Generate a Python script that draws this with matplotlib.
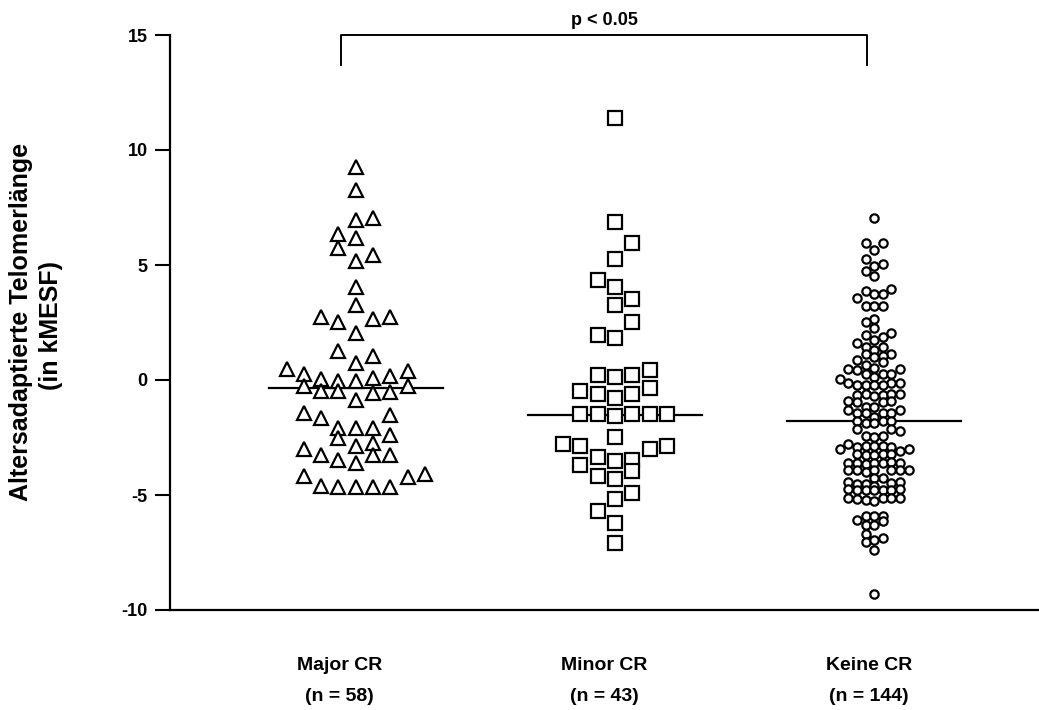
import matplotlib
matplotlib.use("Agg")
from matplotlib import pyplot as plt
from matplotlib.transforms import blended_transform_factory

plt.rcParams['font.family'] = ['Liberation Sans', 'DejaVu Sans']
plt.rcParams['font.weight'] = 'bold'
plt.rcParams['axes.unicode_minus'] = False

# group labels
groups = ['Major CR', 'Minor CR', 'Keine CR']
counts = ['(n = 58)', '(n = 43)', '(n = 144)']
medians = [-0.33, -1.5, -1.78]

# values, plus the swarm column of each point
major_values = [9.26, 8.25, 6.97, 7.05, 6.36, 6.18, 5.75, 5.16, 5.45, 4.06,
                3.27, 2.75, 2.53, 2.65, 2.75, 2.05, 1.27, 1.05, 0.75, 0.49,
                0.25, 0.40, 0.03, -0.04, -0.04, 0.07, 0.17, -0.26, -0.48, -0.48,
                -0.89, -0.55, -0.51, -0.26, -1.43, -1.64, -1.50, -2.07, -2.07, -2.07,
                -2.52, -2.88, -2.74, -2.37, -3.02, -3.27, -3.46, -3.61, -3.24, -3.27,
                -4.19, -4.62, -4.67, -4.67, -4.67, -4.67, -4.23, -4.09]
major_slots = [0, 0, 0, 1, -1, 0, -1, 0, 1, 0,
               0, -2, -1, 1, 2, 0, -1, 1, 0, -4,
               -3, 3, -2, -1, 0, 1, 2, -3, -2, -1,
               0, 1, 2, 3, -3, -2, 2, -1, 0, 1,
               -1, 0, 1, 2, -3, -2, -1, 0, 1, 2,
               -3, -2, -1, 0, 1, 2, 3, 4]

minor_values = [11.37, 6.86, 5.95, 5.27, 4.35, 4.06, 3.52, 3.27, 2.53, 1.95, 1.82,
                0.22, 0.13, 0.22, 0.42,
                -0.48, -0.60, -0.77, -0.60, -0.36,
                -1.47, -1.47, -1.55, -1.47, -1.47, -1.47,
                -2.49, -2.78, -2.88, -2.98, -2.88, -3.36, -3.50, -3.46, -3.68, -3.94,
                -4.19, -4.29, -4.92, -5.16, -5.69, -6.23, -7.10]
minor_slots = [0, 0, 1, 0, -1, 0, 1, 0, 1, -1, 0,
               -1, 0, 1, 2,
               -2, -1, 0, 1, 2,
               -2, -1, 0, 1, 2, 3,
               0, -3, -2, 2, 3, -1, 0, 1, -2, 1,
               -1, 0, 1, 0, -1, 0, 0]

keine_values = [7.04, 5.96, 5.96, 5.67, 5.27, 5.03, 4.94, 4.76, 4.54, 3.96,
                3.87, 3.74, 3.74, 3.55, 3.23, 3.23, 3.23, 2.65, 2.53, 2.24,
                2.04, 1.95, 1.85, 1.75, 1.63, 1.45, 1.45, 1.31, 1.12, 1.12,
                1.00, 1.05, 0.87, 0.78, 0.64, 0.54, 0.47, 0.47, 0.44, 0.25,
                0.25, 0.25, 0.14, 0.03, -0.14, -0.14, -0.14, -0.23, -0.23, -0.23,
                -0.23, -0.65, -0.62, -0.68, -0.65, -0.62, -0.60, -0.90, -0.96, -0.96,
                -0.90, -1.16, -1.16, -1.30, -1.30, -1.45, -1.45, -1.45, -1.45, -1.60,
                -1.80, -1.85, -1.85, -1.80, -1.80, -2.15, -2.15, -2.20, -2.45, -2.49,
                -2.45, -2.98, -2.80, -2.90, -2.88, -2.88, -2.88, -2.90, -3.07, -2.98,
                -3.20, -3.24, -3.24, -3.20, -3.20, -3.60, -3.62, -3.65, -3.60, -3.60,
                -3.58, -3.60, -3.92, -3.92, -3.98, -3.92, -3.92, -3.90, -3.92, -4.25,
                -4.25, -4.45, -4.50, -4.50, -4.48, -4.45, -4.62, -4.75, -4.80, -4.80,
                -4.78, -4.80, -4.80, -4.75, -5.15, -5.18, -5.22, -5.25, -5.15, -5.15,
                -5.12, -5.90, -5.90, -5.90, -6.07, -6.30, -6.30, -6.15, -6.70, -7.05,
                -6.95, -6.85, -7.40, -9.30]
keine_slots = [0, -1, 1, 0, -1, 1, 0, -1, 0, 2,
               -1, 0, 1, -2, -1, 0, 1, 0, -1, 0,
               2, -1, 1, 0, -2, -1, 1, 0, -1, 2,
               0, 1, -2, 1, -1, 0, -3, 3, -2, -1,
               1, 2, 0, -4, -3, 2, 3, -2, -1, 0,
               1, -2, -1, 0, 1, 2, 3, -3, -2, 1,
               2, -1, 0, -3, 3, -2, -1, 1, 2, 0,
               -2, -1, 0, 1, 2, -2, 2, 3, -1, 0,
               1, -4, -3, -2, -1, 0, 1, 2, 3, 4,
               -2, -1, 0, 1, 2, -3, -2, -1, 0, 1,
               2, 3, -3, -2, -1, 0, 2, 3, 4, 0,
               1, -3, -2, -1, 2, 3, 0, -3, -2, -1,
               0, 1, 2, 3, -3, -2, -1, 0, 1, 2,
               3, -1, 0, 1, -2, -1, 0, 1, -1, -1,
               0, 1, 0, 0]

centres = [1, 2, 3]
label_x = [0.938, 1.958, 2.981]
markers = ['^', 's', 'o']
sizes = [9.5, 9.5, 6.0]
steps = [0.0667, 0.067, 0.0334]
all_values = [major_values, minor_values, keine_values]
all_slots = [major_slots, minor_slots, keine_slots]

fig = plt.figure(figsize=(10.39, 7.10), dpi=100)
ax = fig.add_axes([170 / 1039, 1 - 610 / 710, 869 / 1039, 575 / 710])

for c, vals, slots, m, s, st, med in zip(centres, all_values, all_slots,
                                          markers, sizes, steps, medians):
    xs = [c + k * st for k in slots]
    ax.plot(xs, vals, linestyle='none', marker=m, markersize=s,
            markerfacecolor='white', markeredgecolor='black',
            markeredgewidth=1.6, zorder=3)
    ax.plot([c - 0.335, c + 0.335], [med, med], color='black', lw=1.6, zorder=2)

ax.set_xlim(0.2832, 3.636)
ax.set_ylim(-10, 15)
ax.set_yticks([-10, -5, 0, 5, 10, 15])
ax.set_xticks([])
ax.tick_params(axis='y', direction='out', length=11, width=1.5, pad=5,
               labelsize=13)
for lab in ax.get_yticklabels():
    lab.set_fontweight('bold')
for side in ['top', 'right']:
    ax.spines[side].set_visible(False)
for side in ['left', 'bottom']:
    ax.spines[side].set_linewidth(1.6)

# group labels under the axis
trans = blended_transform_factory(ax.transData, ax.transAxes)
for x, g, n in zip(label_x, groups, counts):
    ax.text(x, -0.0957, g, transform=trans, ha='center', va='center',
            fontsize=14, fontweight='bold')
    ax.text(x, -0.151, n, transform=trans, ha='center', va='center',
            fontsize=14, fontweight='bold')

# significance bracket
bx0, bx1 = 0.942, 2.973
ax.plot([bx0, bx0, bx1, bx1], [13.7, 15, 15, 13.7], color='black', lw=1.4,
        clip_on=False)
ax.text((bx0 + bx1) / 2, 1.026, 'p < 0.05', transform=trans, ha='center',
        va='center', fontsize=13, fontweight='bold')

fig.text(21 / 1039, 1 - 322 / 710, 'Altersadaptierte Telomerlänge', rotation=90,
         ha='center', va='center', fontsize=18, fontweight='bold')
fig.text(51 / 1039, 1 - 325 / 710, '(in kMESF)', rotation=90,
         ha='center', va='center', fontsize=18, fontweight='bold')

fig.savefig('out.png', dpi=100)
